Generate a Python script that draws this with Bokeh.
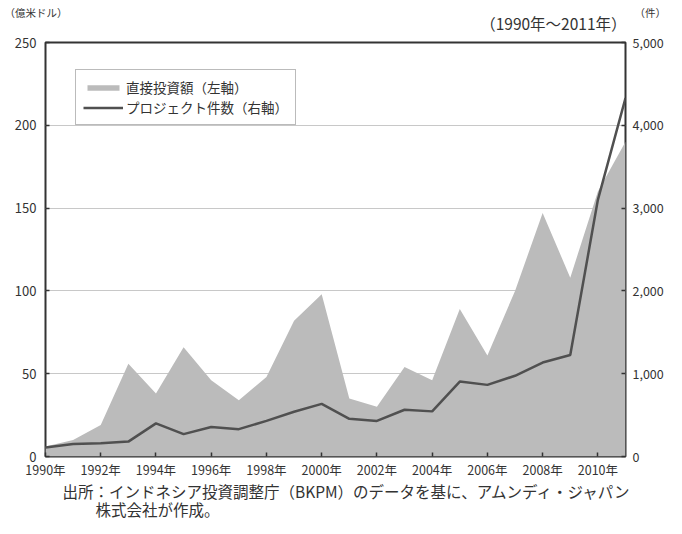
from bokeh.plotting import figure
from bokeh.models import (Range1d, LinearAxis, FixedTicker, NumeralTickFormatter,
                          Legend, LegendItem, Label, ColumnDataSource)
from bokeh.layouts import column
from bokeh.embed import file_html
from bokeh.resources import INLINE

years = list(range(1990, 2012))
fdi = [6, 10, 19, 56, 38, 66, 46, 34, 48, 82, 98, 35, 30, 54, 46, 89, 61, 100, 147, 108, 160, 190]
projects = [110, 150, 160, 180, 400, 270, 357, 330, 430, 540, 635, 455, 430, 565, 545, 905, 865, 975, 1135, 1225, 3100, 4330]
x_ticks = list(range(1990, 2011, 2))
x_tick_labels = [f"{y}年" for y in x_ticks]
left_ticks = [0, 50, 100, 150, 200, 250]
right_ticks = [0, 1000, 2000, 3000, 4000, 5000]

legend_fdi = "直接投資額（左軸）"
legend_proj = "プロジェクト件数（右軸）"
unit_left = "（億米ドル）"
unit_right = "（件）"
period = "（1990年～2011年）"
source1 = "出所：インドネシア投資調整庁（BKPM）のデータを基に、アムンディ・ジャパン"
source2 = "株式会社が作成。"

JP = "Noto Sans CJK JP"
TXT = "#333333"
W = 666
HEAD_H = 34
MAIN_H = 447
FOOT_H = 518 - HEAD_H - MAIN_H


def text_panel(h):
    f = figure(width=W, height=h, output_backend="svg", toolbar_location=None,
               x_range=Range1d(0, W), y_range=Range1d(h, 0),
               x_axis_type=None, y_axis_type=None, frame_align=False,
               min_border=0, min_border_left=0, min_border_right=0,
               min_border_top=0, min_border_bottom=0)
    f.outline_line_color = None
    f.xgrid.grid_line_color = None
    f.ygrid.grid_line_color = None
    return f


def add_text(f, x, y, txt, size, align="left"):
    f.add_layout(Label(x=x, y=y, text=txt, text_font=JP, text_font_size=size,
                       text_color=TXT, text_align=align, text_baseline="middle"))


# header
head = text_panel(HEAD_H)
add_text(head, 4, 12, unit_left, "10.5px")
add_text(head, 634, 12, unit_right, "10.5px")
add_text(head, 626, 22, period, "15.5px", "right")

# main chart
src = ColumnDataSource(dict(year=years, fdi=fdi, proj=projects, zero=[0] * len(years)))

p = figure(width=W, height=MAIN_H, output_backend="svg", toolbar_location=None,
           x_range=Range1d(1990, 2011), y_range=Range1d(0, 250), frame_align=False,
           min_border_left=45, min_border_right=41, min_border_top=8, min_border_bottom=24)
p.extra_y_ranges = {"count": Range1d(0, 5000)}

p.outline_line_color = "#333333"
p.outline_line_width = 2
p.xgrid.grid_line_color = None
p.ygrid.grid_line_color = "#c8c8c8"
p.ygrid.grid_line_width = 1
p.ygrid.ticker = FixedTicker(ticks=left_ticks[1:-1])

area = p.varea(x="year", y1="zero", y2="fdi", source=src, fill_color="#bbbbbb")
line = p.line(x="year", y="proj", source=src, y_range_name="count",
              line_color="#505050", line_width=2.5)


def style_axis(ax, size="13px", standoff=7):
    ax.axis_line_color = None
    ax.major_tick_in = 4
    ax.major_tick_out = 0
    ax.minor_tick_in = 0
    ax.minor_tick_out = 0
    ax.major_tick_line_color = "#333333"
    ax.major_tick_line_width = 1.5
    ax.major_label_text_font = JP
    ax.major_label_text_font_size = size
    ax.major_label_text_color = TXT
    ax.major_label_standoff = standoff


xa = p.xaxis[0]
xa.ticker = FixedTicker(ticks=x_ticks)
xa.major_label_overrides = {t: lab for t, lab in zip(x_ticks, x_tick_labels)}
style_axis(xa, "12.5px", 3)

ya = p.yaxis[0]
ya.ticker = FixedTicker(ticks=left_ticks)
style_axis(ya, "13px", 9)

ra = LinearAxis(y_range_name="count", ticker=FixedTicker(ticks=right_ticks),
                formatter=NumeralTickFormatter(format="0,0"))
style_axis(ra, "12.5px", 7)
p.add_layout(ra, "right")

legend = Legend(items=[LegendItem(label=legend_fdi, renderers=[area]),
                       LegendItem(label=legend_proj, renderers=[line])],
                location=(30, 331))
legend.label_text_font = JP
legend.label_text_font_size = "13.5px"
legend.label_text_color = TXT
legend.glyph_width = 40
legend.glyph_height = 7
legend.label_height = 16
legend.label_width = 158
legend.label_standoff = 3
legend.spacing = 0
legend.padding = 7
legend.margin = 0
legend.border_line_color = "#777777"
legend.border_line_width = 1.5
legend.background_fill_color = "white"
legend.background_fill_alpha = 1
p.add_layout(legend, "center")

# footer
foot = text_panel(FOOT_H)
add_text(foot, 62, 9, source1, "15.5px")
add_text(foot, 95, 27, source2, "15.5px")

layout = column(head, p, foot, spacing=0)
open("out.html", "w").write(file_html(layout, INLINE))
